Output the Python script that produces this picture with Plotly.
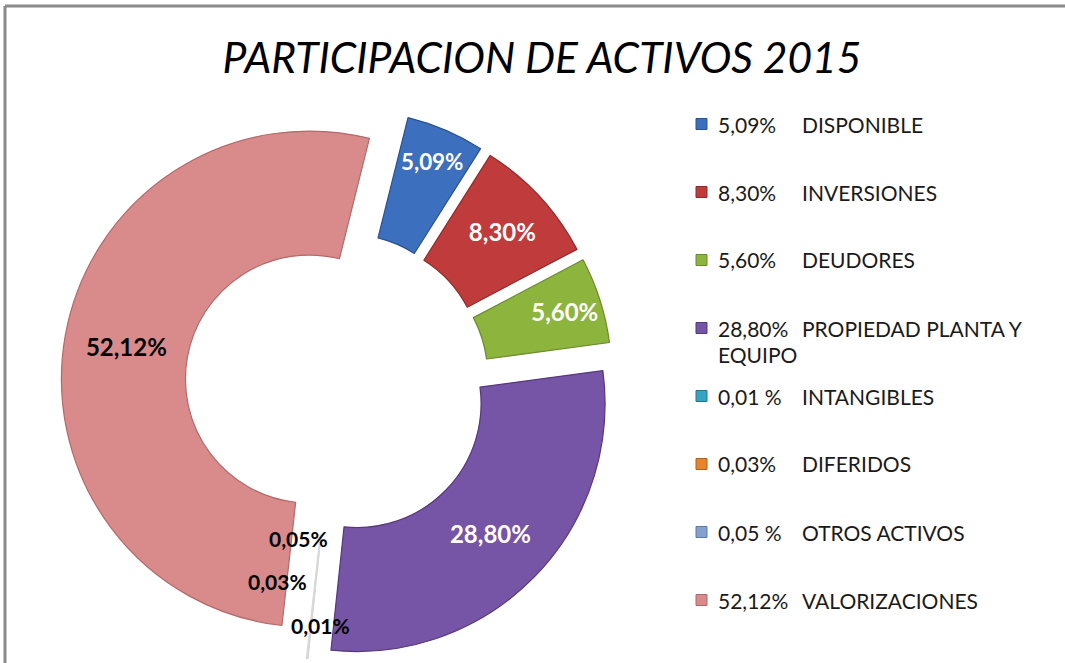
import plotly.graph_objects as go

W, H = 1065, 663

categories = ["DISPONIBLE", "INVERSIONES", "DEUDORES", "PROPIEDAD PLANTA Y EQUIPO",
              "INTANGIBLES", "DIFERIDOS", "OTROS ACTIVOS", "VALORIZACIONES"]
values = [5.09, 8.30, 5.60, 28.80, 0.01, 0.03, 0.05, 52.12]
slice_labels = ["5,09%", "8,30%", "5,60%", "28,80%", "0,01%", "0,03%", "0,05%", "52,12%"]
legend_pct = ["5,09%", "8,30%", "5,60%", "28,80%", "0,01 %", "0,03%", "0,05 %", "52,12%"]
colors = ["#3c6fbd", "#c03b3b", "#8db43d", "#7655a6", "#35a3c2", "#e8842c", "#82a0d0", "#d98b8b"]
edge_colors = ["#2b528f", "#8e2a2a", "#6a8a2c", "#56397d", "#d8d8d8", "#d8d8d8", "#d8d8d8", "#b06a6a"]
legend_edge = ["#2b528f", "#8e2a2a", "#6a8a2c", "#56397d", "#23788f", "#b0611e", "#5f7aa3", "#b06a6a"]
text_colors = ["white", "white", "white", "white", "black", "black", "black", "black"]
text_pos = ["inside", "inside", "inside", "inside", "none", "none", "none", "inside"]

FONT = "Lato"


def px_x(p):
    return p / W


def px_y(p):
    return 1 - p / H


fig = go.Figure()
fig.add_trace(go.Pie(
    labels=categories,
    values=values,
    text=slice_labels,
    texttemplate="%{text}",
    textposition=text_pos,
    insidetextorientation="horizontal",
    insidetextfont=dict(family=FONT, size=24, color=text_colors, weight="bold"),
    hole=0.5,
    pull=[0.113] * len(values),
    sort=False,
    direction="clockwise",
    rotation=14,
    marker=dict(colors=colors, line=dict(color=edge_colors, width=1.2)),
    domain=dict(x=[px_x(337 - 276), px_x(337 + 276)], y=[px_y(384 + 276), px_y(384 - 276)]),
    showlegend=False,
    hoverinfo="label+percent",
))

annotations = []
shapes = []

# tiny-slice labels placed in the gap at the bottom of the ring
small_pos = {6: (298, 538), 5: (277, 581), 4: (320, 625)}
for idx, (x, y) in small_pos.items():
    annotations.append(dict(
        x=px_x(x), y=px_y(y), xref="paper", yref="paper", text=slice_labels[idx],
        showarrow=False, xanchor="center", yanchor="middle",
        font=dict(family=FONT, size=21, color="black", weight="bold")))

# legend drawn on the right
leg_top, leg_step = 124, 68
mark_x0, pct_x, name_x = 696, 716, 800
for i, name in enumerate(categories):
    yc = leg_top + leg_step * i
    shapes.append(dict(type="rect", xref="paper", yref="paper",
                       x0=px_x(mark_x0), x1=px_x(mark_x0 + 11),
                       y0=px_y(yc + 5.5), y1=px_y(yc - 5.5),
                       fillcolor=colors[i], line=dict(color=legend_edge[i], width=1)))
    annotations.append(dict(
        x=px_x(pct_x), y=px_y(yc), xref="paper", yref="paper", text=legend_pct[i],
        showarrow=False, xanchor="left", yanchor="middle",
        font=dict(family=FONT, size=21, color="#1a1a1a")))
    words = name.split(" ")
    first, rest = name, ""
    if len(name) > 20:
        first = " ".join(words[:-1])
        rest = words[-1]
    annotations.append(dict(
        x=px_x(name_x), y=px_y(yc), xref="paper", yref="paper", text=first,
        showarrow=False, xanchor="left", yanchor="middle",
        font=dict(family=FONT, size=21, color="#1a1a1a")))
    if rest:
        annotations.append(dict(
            x=px_x(pct_x), y=px_y(yc + 26), xref="paper", yref="paper", text=rest,
            showarrow=False, xanchor="left", yanchor="middle",
            font=dict(family=FONT, size=21, color="#1a1a1a")))

# chart border (top and left edges visible)
shapes.append(dict(type="line", xref="paper", yref="paper",
                   x0=px_x(5), x1=1.0, y0=px_y(6), y1=px_y(6),
                   line=dict(color="#8a8a8a", width=3)))
shapes.append(dict(type="line", xref="paper", yref="paper",
                   x0=px_x(5), x1=px_x(5), y0=px_y(6), y1=0.0,
                   line=dict(color="#8a8a8a", width=3)))

fig.update_layout(
    width=W, height=H,
    margin=dict(l=0, r=0, t=0, b=0),
    paper_bgcolor="white",
    plot_bgcolor="white",
    title=dict(text="PARTICIPACION DE ACTIVOS 2015",
               x=px_x(542), xref="paper", xanchor="center",
               y=px_y(58), yref="container", yanchor="middle",
               font=dict(family=FONT, size=42.5, color="black", style="italic")),
    annotations=annotations,
    shapes=shapes,
)

fig.write_html("out.html",
               config={"displayModeBar": False},
               post_script="document.body.style.margin='0px';document.body.style.overflow='hidden';")
